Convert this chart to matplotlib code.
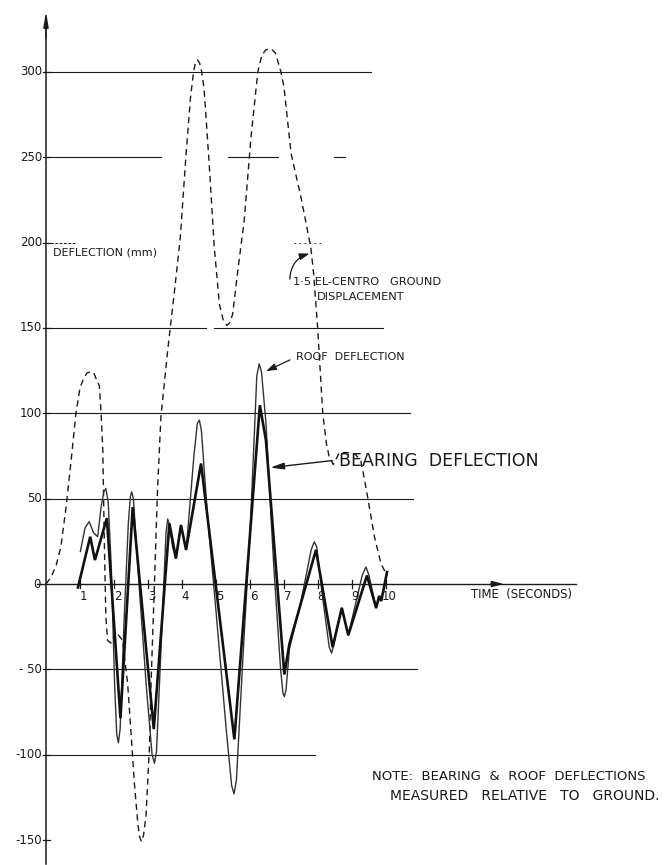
import numpy as np
import matplotlib.pyplot as plt

# ---- data (time in s, deflection in mm) ----
bearing_t = [0.94, 1.30, 1.44, 1.79, 2.19, 2.55, 3.17, 3.63, 3.82, 3.97, 4.12, 4.56,
             5.54, 6.29, 6.47, 7.01, 7.16, 7.94, 8.43, 8.70, 8.89, 9.44, 9.71, 9.80,
             9.86, 10.03]
bearing_v = [-2, 27.7, 14, 38.6, -78.6, 45, -85, 35.5, 15, 34.5, 20, 70.6,
             -91, 104.7, 84, -53, -35, 20, -37, -14, -30, 5, -14, -7,
             -10, 7]

roof_t = [1.01, 1.15, 1.27, 1.40, 1.52, 1.62, 1.70, 1.76, 1.83, 1.92, 2.02, 2.08,
          2.13, 2.18, 2.30, 2.42, 2.48, 2.52, 2.57, 2.70, 2.95, 3.12, 3.19, 3.25,
          3.40, 3.53, 3.58, 3.63, 3.72, 3.82, 3.97, 4.12, 4.21, 4.35, 4.45, 4.51,
          4.57, 4.75, 4.97, 5.30, 5.46, 5.53, 5.60, 5.80, 6.00, 6.10, 6.20, 6.27,
          6.34, 6.47, 6.70, 6.90, 6.97, 7.01, 7.06, 7.16, 7.50, 7.80, 7.89, 7.96,
          8.15, 8.33, 8.40, 8.47, 8.70, 8.89, 9.30, 9.41, 9.50, 9.71]
roof_v = [19, 33, 36.5, 30, 27.7, 45, 54, 56, 48, 10, -60, -88,
          -93, -85, -20, 35, 51, 54, 50, 10, -60, -100, -105, -98,
          -30, 30, 38, 35, 22, 15, 34.5, 20, 41, 75, 94, 96,
          90, 40, -9, -85, -118, -123, -115, -40, 30, 75, 122, 129,
          124, 94, 10, -50, -64, -66, -62, -38, -10, 20, 24.7, 22,
          -10, -37, -40.5, -35, -14, -30, 5, 10, 5, -14]

ground_t = [0.00, 0.15, 0.30, 0.44, 0.59, 0.74, 0.88, 1.00, 1.10, 1.20, 1.32, 1.42,
            1.50, 1.57, 1.62, 1.67, 1.72, 1.76, 1.81, 1.91, 2.06, 2.25, 2.40, 2.50,
            2.60, 2.70, 2.75, 2.81, 2.87, 2.94, 3.04, 3.09, 3.19, 3.28, 3.38, 3.58,
            3.77, 3.95, 4.12, 4.25, 4.34, 4.40, 4.46, 4.52, 4.58, 4.65, 4.80, 4.95,
            5.10, 5.22, 5.32, 5.40, 5.49, 5.65, 5.83, 6.03, 6.23, 6.35, 6.47, 6.62,
            6.75, 6.91, 7.00, 7.21, 7.50, 7.79, 7.87, 7.99, 8.14, 8.25, 8.33, 8.45,
            8.63, 8.85, 9.10, 9.26, 9.36, 9.46, 9.66, 9.85, 10.03]
ground_v = [0, 4, 11, 22, 45, 72.6, 100, 115, 120, 123.5, 124.5, 123,
            119, 116, 100, 78.5, 20, -19, -33, -34.6, -28, -33, -58, -87,
            -117, -140, -148, -151, -147, -136, -97, -58, 0.4, 55, 98, 137,
            170, 203, 252, 285, 300, 306, 307, 305, 300, 290, 246, 197,
            164, 154, 151.5, 153, 158, 185, 213, 262, 300, 310, 313, 313.5,
            311, 300, 291, 252, 226.5, 197, 182, 150, 100, 82, 74.5, 70,
            77, 77, 76, 72, 62, 51, 27.7, 12, 5]

y_levels = [300, 250, 200, 150, 100, 50, -50, -100, -150]
y_labels = ['300', '250', '200', '150', '100', '50', '- 50', '-100', '-150']
x_ticks = [1, 2, 3, 4, 5, 6, 7, 8, 9, 10]

# horizontal guide lines drawn on the sheet (level, start, end) in seconds
guides = [(300, 0, 9.55), (250, 0, 3.38), (250, 5.35, 6.82), (250, 8.47, 8.8),
          (150, 0, 4.71), (150, 4.94, 9.9), (100, 0, 10.7), (50, 0, 10.8),
          (-50, 0, 10.9), (-100, 0, 7.9)]

# pixel mapping of the sheet
X0, SX = 46, 34.0
Y0, SY = 584, 1.707
W, H = 668, 865

fig = plt.figure(figsize=(W / 100, H / 100), dpi=100)
ax = fig.add_axes([0, 0, 1, 1])
ax.set_xlim(-X0 / SX, (W - X0) / SX)
ax.set_ylim((Y0 - H) / SY, Y0 / SY)
ax.axis('off')

ink = '#1a1a1a'
plt.rcParams['font.family'] = 'DejaVu Sans'

# axes
ax.plot([0, 0], [-164, 325], color=ink, lw=1.1)
ax.annotate('', xy=(0, 337), xytext=(0, 318),
            arrowprops=dict(arrowstyle='-|>,head_length=0.9,head_width=0.15',
                            color=ink, lw=1.0))
ax.plot([-0.26, 15.6], [0, 0], color=ink, lw=1.0)
ax.annotate('', xy=(13.55, 0), xytext=(13.0, 0),
            arrowprops=dict(arrowstyle='-|>,head_length=0.7,head_width=0.18',
                            color=ink, lw=1.0))

# guide lines
for lev, a, b in guides:
    ax.plot([a, b], [lev, lev], color=ink, lw=0.8)
ax.plot([0, 0.85], [200, 200], color=ink, lw=0.7, ls=(0, (3, 1.5)))
ax.plot([7.3, 8.1], [200, 200], color=ink, lw=0.6, ls=(0, (2, 4)))

# tick marks and labels
for lev, lab in zip(y_levels, y_labels):
    ax.plot([-0.1, 0.12], [lev, lev], color=ink, lw=0.9)
    ax.text(-0.12, lev, lab, ha='right', va='center', fontsize=8.5, color=ink)
ax.text(-0.16, 0, '0', ha='right', va='center', fontsize=8.5, color=ink)
for t in x_ticks:
    ax.plot([t, t], [-2.5, 2.5], color=ink, lw=0.9)
    ax.text(t + 0.1, -3.5, str(t), ha='center', va='top', fontsize=8.5, color=ink)

# curves
ax.plot(ground_t, ground_v, color=ink, lw=1.0, ls=(0, (4.5, 3.2)))
ax.plot(roof_t, roof_v, color='#333333', lw=1.0)
ax.plot(bearing_t, bearing_v, color='#111111', lw=1.9, solid_joinstyle='miter')

# text and leaders
ax.text(0.22, 194, 'DEFLECTION (mm)', fontsize=8, va='center', color=ink)
ax.text(7.25, 177, '1·5 EL-CENTRO   GROUND', fontsize=8.2, va='center', color=ink)
ax.text(7.97, 168, 'DISPLACEMENT', fontsize=8.2, va='center', color=ink)
ax.annotate('', xy=(7.83, 194), xytext=(7.17, 177),
            arrowprops=dict(arrowstyle='-|>,head_length=0.6,head_width=0.2',
                            connectionstyle='arc3,rad=-0.4', color=ink, lw=0.9))
ax.text(7.35, 133, 'ROOF  DEFLECTION', fontsize=8, va='center', color=ink)
ax.annotate('', xy=(6.4, 124), xytext=(7.25, 132),
            arrowprops=dict(arrowstyle='-|>,head_length=0.6,head_width=0.2',
                            color=ink, lw=0.9))
ax.text(8.62, 72, 'BEARING  DEFLECTION', fontsize=12.5, va='center', color=ink)
ax.annotate('', xy=(6.52, 68), xytext=(8.5, 72.5),
            arrowprops=dict(arrowstyle='-|>,head_length=0.8,head_width=0.2',
                            color=ink, lw=1.0))
ax.text(12.5, -6, 'TIME  (SECONDS)', fontsize=8.4, va='center', color=ink)
ax.text(9.6, -113, 'NOTE:  BEARING  &  ROOF  DEFLECTIONS', fontsize=9.5,
        va='center', color=ink)
ax.text(10.12, -124, 'MEASURED   RELATIVE   TO   GROUND.', fontsize=10,
        va='center', color=ink)

fig.savefig('out.png', dpi=100, facecolor='white')
